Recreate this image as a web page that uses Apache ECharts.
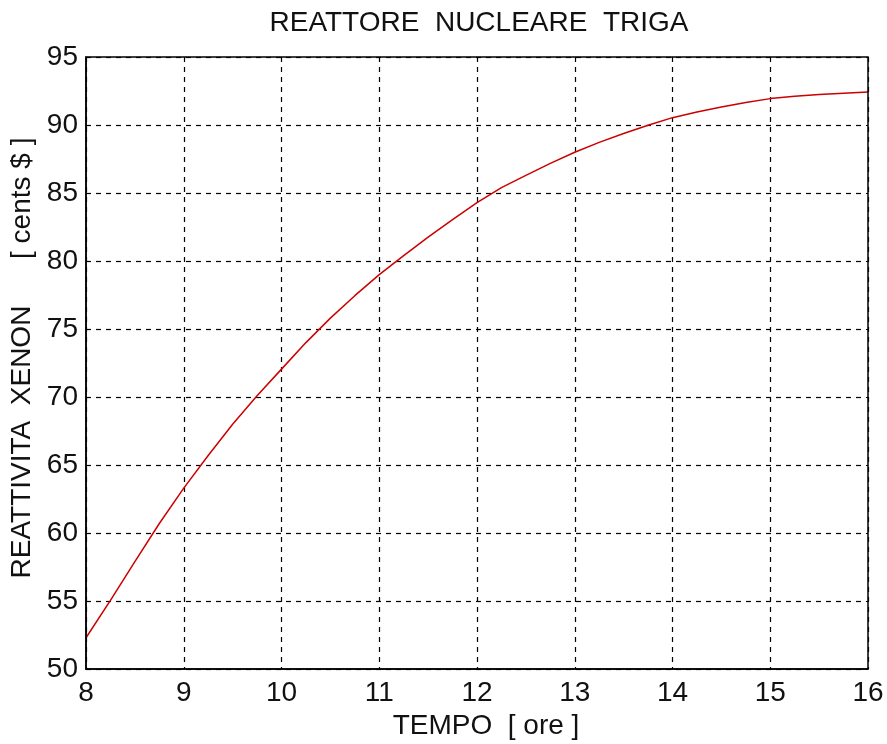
<!DOCTYPE html>
<html>
<head>
<meta charset="utf-8">
<script src="https://cdn.jsdelivr.net/npm/echarts@6/dist/echarts.min.js"></script>
<style>html,body{margin:0;padding:0;background:#fff;}#chart{width:887px;height:744px;}</style>
</head>
<body>
<div id="chart"></div>
<script>
var titleText = 'REATTORE  NUCLEARE  TRIGA';
var xName = 'TEMPO  [ ore ]';
var yName = 'REATTIVITA  XENON      [ cents $ ]';
var tempo = [8.0, 8.25, 8.5, 8.75, 9.0, 9.25, 9.5, 9.75, 10.0, 10.25, 10.5, 10.75, 11.0, 11.25, 11.5, 11.75, 12.0, 12.25, 12.5, 12.75, 13.0, 13.25, 13.5, 13.75, 14.0, 14.25, 14.5, 14.75, 15.0, 15.25, 15.5, 15.75, 16.0];
var reattivita = [52.3, 55.05, 57.9, 60.7, 63.3, 65.7, 68.0, 70.1, 72.05, 74.0, 75.8, 77.45, 79.0, 80.4, 81.75, 83.05, 84.3, 85.4, 86.3, 87.18, 88.0, 88.72, 89.38, 89.98, 90.54, 90.95, 91.32, 91.65, 91.94, 92.12, 92.24, 92.34, 92.43];
var xTicks = {min: 8, max: 16, interval: 1};
var yTicks = {min: 50, max: 95, interval: 5};

var data = tempo.map(function (t, i) { return [t, reattivita[i]]; });
var font = 'Liberation Sans, Arial, sans-serif';
var chart = echarts.init(document.getElementById('chart'), null, {renderer: 'canvas'});
chart.setOption({
  animation: false,
  backgroundColor: '#ffffff',
  title: {
    text: titleText,
    left: 474, textAlign: 'center', top: 4,
    textStyle: {fontFamily: font, fontSize: 28, fontWeight: 'normal', color: '#111'}
  },
  grid: {left: 86, right: 19, top: 57, bottom: 75, containLabel: false, outerBoundsMode: 'none'},
  xAxis: {
    type: 'value', min: xTicks.min, max: xTicks.max, interval: xTicks.interval,
    name: xName, nameLocation: 'middle', nameGap: 40,
    nameTextStyle: {fontFamily: font, fontSize: 28, color: '#111', verticalAlign: 'top', padding: [0, 0, 0, 18]},
    axisLine: {show: true, lineStyle: {color: '#000', width: 1.5}},
    axisTick: {show: false},
    axisLabel: {fontFamily: font, fontSize: 28, color: '#111', margin: 10},
    splitLine: {show: true, lineStyle: {color: '#000', type: [5, 5], width: 1.2}}
  },
  yAxis: {
    type: 'value', min: yTicks.min, max: yTicks.max, interval: yTicks.interval,
    name: yName, nameLocation: 'middle', nameGap: 49, nameRotate: 90,
    nameTextStyle: {fontFamily: font, fontSize: 28, color: '#111', padding: [0, 0, 0, 10]},
    axisLine: {show: true, lineStyle: {color: '#000', width: 1.5}},
    axisTick: {show: false},
    axisLabel: {fontFamily: font, fontSize: 28, color: '#111', margin: 8},
    splitLine: {show: true, lineStyle: {color: '#000', type: [5, 5], width: 1.2}}
  },
  series: [{
    type: 'line', data: data, showSymbol: false, smooth: false,
    lineStyle: {color: '#cc0000', width: 1.5}
  }],
  graphic: [{
    type: 'rect', silent: true, z: 10,
    shape: {x: 86, y: 57, width: 782, height: 612},
    style: {fill: 'none', stroke: '#000', lineWidth: 1.5}
  }]
});
</script>
</body>
</html>
